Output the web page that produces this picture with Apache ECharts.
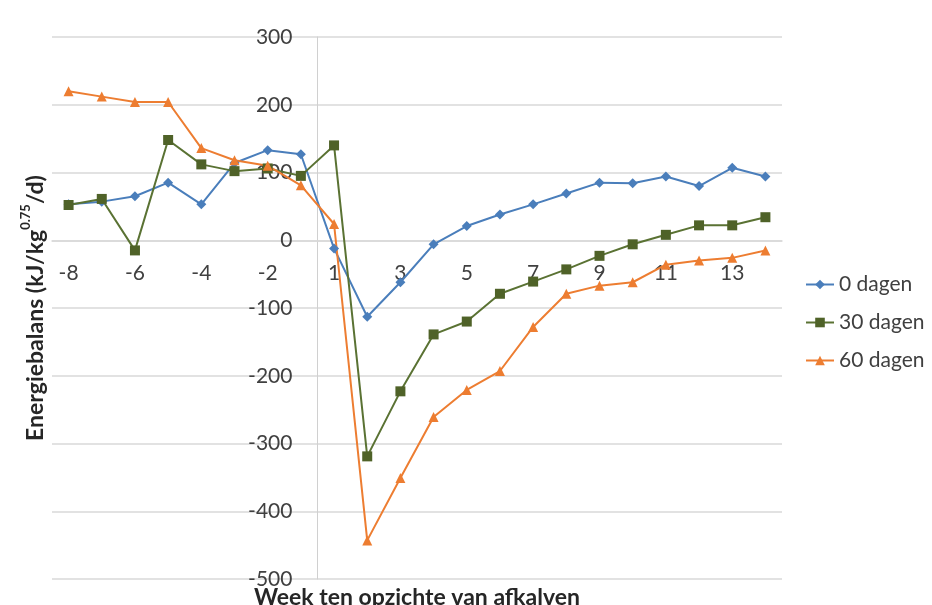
<!DOCTYPE html>
<html>
<head>
<meta charset="utf-8">
<script src="https://cdn.jsdelivr.net/npm/echarts@6/dist/echarts.min.js"></script>
<style>
html,body{margin:0;padding:0;background:#fff;}
#chart{width:932px;height:605px;}
</style>
</head>
<body>
<div id="chart"></div>
<script>
var weeks = ['-8','-7','-6','-5','-4','-3','-2','-1','1','2','3','4','5','6','7','8','9','10','11','12','13','14'];
var seriesNames = ['0 dagen','30 dagen','60 dagen'];
var dagen0  = [53, 57, 65, 85, 53, 114, 133, 127, -12, -113, -62, -6, 21, 38, 53, 69, 85, 84, 94, 80, 107, 94];
var dagen30 = [52, 61, -15, 148, 112, 102, 106, 95, 140, -319, -223, -139, -120, -79, -61, -43, -23, -6, 8, 22, 22, 34];
var dagen60 = [220, 212, 204, 204, 136, 118, 110, 81, 24, -443, -351, -261, -221, -193, -128, -79, -67, -62, -36, -30, -26, -15];
var yTicks = {min: -500, max: 300, step: 100};

var W = 932, H = 605;
var gridLeft = 52, gridRight = 150, gridTop = 37, gridBottom = 26;
var plotWidth = W - gridLeft - gridRight;
var plotHeight = H - gridTop - gridBottom;
var crossIndex = weeks.indexOf('1'); // vertical axis crosses between -1 and 1
var yOffset = -crossIndex * plotWidth / weeks.length;
var xOffset = -plotHeight * (0 - yTicks.min) / (yTicks.max - yTicks.min); // horizontal axis at y = 0

var font = 'Lato, "Open Sans", sans-serif';
var chart = echarts.init(document.getElementById('chart'));
chart.setOption({
  animation: false,
  textStyle: {fontFamily: font},
  grid: {left: gridLeft, right: gridRight, top: gridTop, bottom: gridBottom, containLabel: false, outerBoundsMode: 'none'},
  legend: {
    orient: 'vertical',
    left: 800, top: 269,
    itemWidth: 28, itemHeight: 12, itemGap: 17,
    textStyle: {fontSize: 21, color: '#404040', fontFamily: font},
    data: seriesNames
  },
  xAxis: {
    type: 'category',
    data: weeks,
    boundaryGap: true,
    position: 'bottom',
    offset: xOffset,
    axisLine: {show: true, onZero: false, lineStyle: {color: '#d9d9d9', width: 1.5}},
    axisTick: {show: false},
    axisLabel: {interval: 1, margin: 22, fontSize: 21, color: '#404040', fontFamily: font},
    splitLine: {show: false},
    name: 'Week ten opzichte van afkalven',
    nameLocation: 'middle',
    nameGap: 346,
    nameTextStyle: {fontSize: 23, fontWeight: 'bold', color: '#262626', fontFamily: font}
  },
  yAxis: {
    type: 'value',
    min: yTicks.min, max: yTicks.max, interval: yTicks.step,
    position: 'left',
    offset: yOffset,
    axisLine: {show: true, onZero: false, lineStyle: {color: '#d0d0d0', width: 1}},
    axisTick: {show: false},
    axisLabel: {margin: 25, fontSize: 21, color: '#404040', fontFamily: font},
    splitLine: {show: true, lineStyle: {color: '#d9d9d9', width: 1.5}},
    name: '{b|Energiebalans (kJ/kg}{s|0.75}{b|/d)}',
    nameLocation: 'middle',
    nameGap: 270,
    nameRotate: 90,
    nameTextStyle: {
      fontFamily: font,
      rich: {
        b: {fontSize: 23, fontWeight: 'bold', color: '#262626', fontFamily: font, lineHeight: 28, verticalAlign: 'bottom'},
        s: {fontSize: 13, fontWeight: 'bold', color: '#262626', fontFamily: font, lineHeight: 28, verticalAlign: 'top', padding: [0,0,14,0]}
      }
    }
  },
  series: [
    {name: seriesNames[0], type: 'line', data: dagen0, symbol: 'diamond', symbolSize: 10,
     itemStyle: {color: '#4A7EBB'}, lineStyle: {color: '#4A7EBB', width: 2}},
    {name: seriesNames[1], type: 'line', data: dagen30, symbol: 'rect', symbolSize: 10,
     itemStyle: {color: '#4F6228'}, lineStyle: {color: '#5A7233', width: 2}},
    {name: seriesNames[2], type: 'line', data: dagen60, symbol: 'triangle', symbolSize: 10,
     itemStyle: {color: '#ED7D31'}, lineStyle: {color: '#ED7D31', width: 2}}
  ]
});
</script>
</body>
</html>
